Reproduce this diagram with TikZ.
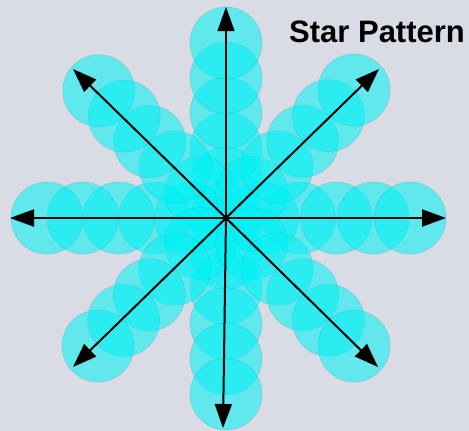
\documentclass[tikz,border=0pt]{standalone}
\usepackage{fontspec}
\setmainfont{Liberation Sans}
\usetikzlibrary{arrows.meta, positioning, calc}
\definecolor{StarBack}{RGB}{217, 220, 228}
\definecolor{StarCyan}{RGB}{0, 242, 246}
\definecolor{StarEdge}{RGB}{40, 150, 170}

\begin{document}
\begin{tikzpicture}[
  x=1pt, y=-1pt,
  blob/.style={fill=StarCyan, fill opacity=0.55, draw=StarEdge, draw opacity=0.25, line width=0.6pt},
  ray/.style={-{Triangle[length=24pt, width=17pt]}, line width=2pt, draw=black},
  title/.style={font=\fontsize{31}{34}\selectfont\bfseries, anchor=west, inner sep=0pt}
]
  % background and page size
  \fill[StarBack] (0,0) rectangle (469,431);
  \useasboundingbox (0,0) rectangle (469,431);

  \coordinate (c) at (226,218);
  % tips of the eight rays
  \coordinate (tN)  at (226,7);
  \coordinate (tS)  at (223,428);
  \coordinate (tW)  at (10,218);
  \coordinate (tE)  at (446,218);
  \coordinate (tNW) at (73,69);
  \coordinate (tNE) at (379,69);
  \coordinate (tSW) at (73,367);
  \coordinate (tSE) at (378,367);

  % circles along each arm (angle, y down / outer distance)
  \filldraw[blob] (c) circle (36);
  \foreach \a/\D in {-90/175, 90/176, 180/179, 0/184, -135/180, -45/181, 135/181, 45/181} {
    \foreach \k in {1,...,5} {
      \filldraw[blob] ($(c)+({\k*\D/5*cos(\a)},{\k*\D/5*sin(\a)})$) circle (36);
    }
  }

  % the arrows
  \draw[ray, line width=1.2pt] (c) -- (tN);
  \foreach \t in {tS, tW, tE, tNW, tNE, tSW, tSE}
    \draw[ray] (c) -- (\t);

  \node[title] (lbl) at (289,32) {Star Pattern};
\end{tikzpicture}
\end{document}
